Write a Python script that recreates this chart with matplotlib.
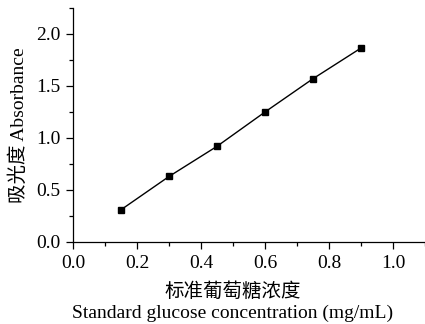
import matplotlib
matplotlib.use("Agg")
import matplotlib.pyplot as plt
from matplotlib.ticker import MultipleLocator

plt.rcParams['font.family'] = ['Liberation Serif', 'Noto Sans CJK SC']

conc = [0.15, 0.30, 0.45, 0.60, 0.75, 0.90]
absorb = [0.31, 0.63, 0.92, 1.25, 1.57, 1.865]
xticks = [0.0, 0.2, 0.4, 0.6, 0.8, 1.0]
yticks = [0.0, 0.5, 1.0, 1.5, 2.0]

fig = plt.figure(figsize=(4.25, 3.24), dpi=100)
ax = fig.add_axes([73/425, 82/324, 1 - 73/425, (242-8)/324])
ax.plot(conc, absorb, color='black', lw=1.0, marker='s', ms=4.5,
        markerfacecolor='black', markeredgecolor='black')
ax.set_xlim(0, 1.1)
ax.set_ylim(0, 2.25)
ax.set_xticks(xticks)
ax.set_yticks(yticks)
ax.set_xticklabels([f"{v:.1f}" for v in xticks])
ax.set_yticklabels([f"{v:.1f}" for v in yticks])
ax.xaxis.set_minor_locator(MultipleLocator(0.1))
ax.yaxis.set_minor_locator(MultipleLocator(0.25))
for s in ['top', 'right']:
    ax.spines[s].set_visible(False)
for s in ['left', 'bottom']:
    ax.spines[s].set_linewidth(0.9)
ax.tick_params(which='major', direction='out', length=5, width=0.9, labelsize=14, pad=4)
ax.tick_params(which='minor', direction='out', length=3, width=0.9)

ax.set_ylabel("吸光度 Absorbance", fontsize=14, labelpad=6)
fig.text((73 + 393) / 2 / 425, 1 - 292/324, "标准葡萄糖浓度", ha='center', va='center', fontsize=14)
fig.text((73 + 393) / 2 / 425, 1 - 313/324, "Standard glucose concentration (mg/mL)", ha='center', va='center', fontsize=14)

fig.savefig("out.png", dpi=100)
